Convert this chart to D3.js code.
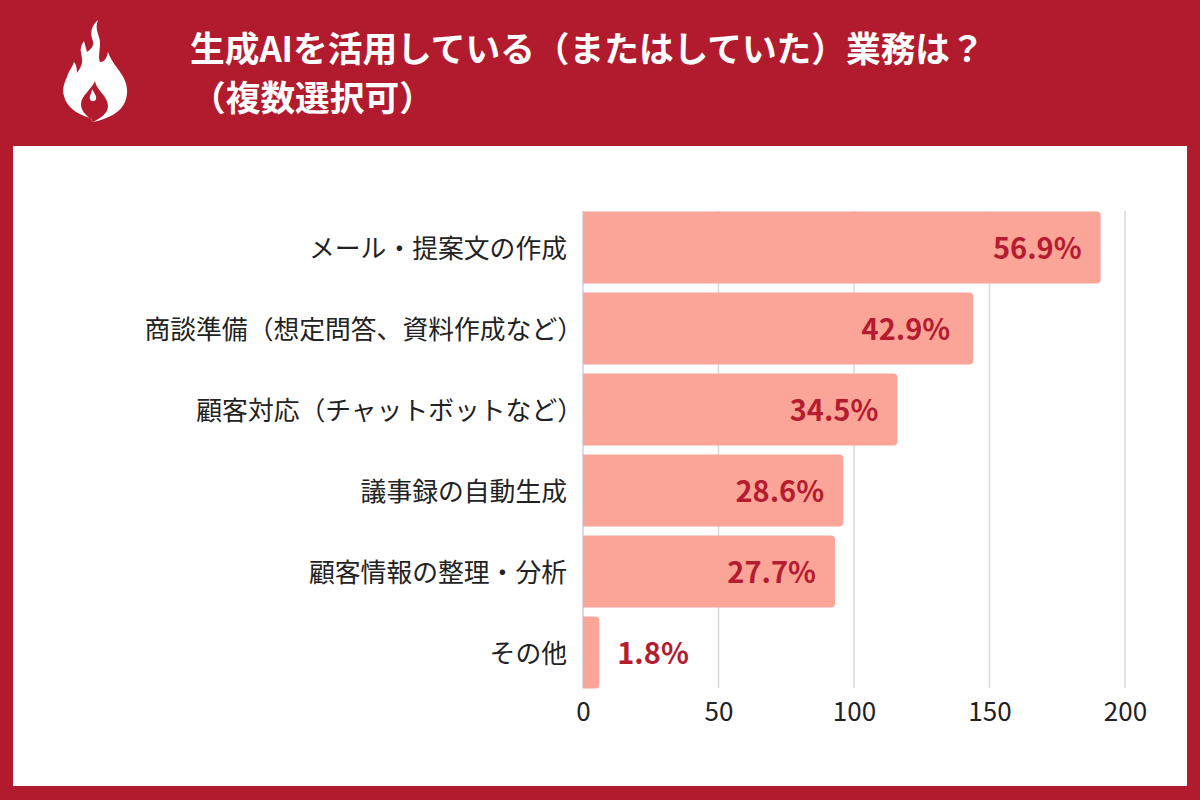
<!DOCTYPE html>
<html lang="ja"><head><meta charset="utf-8">
<script src="https://cdn.jsdelivr.net/npm/d3@7"></script>
<style>html,body{margin:0;padding:0;background:#fff}svg{display:block}
text{font-family:"Noto Sans CJK JP","Noto Sans",sans-serif}</style></head><body>
<svg id="c" width="1200" height="800"></svg>
<script>
const categories=["メール・提案文の作成","商談準備（想定問答、資料作成など）","顧客対応（チャットボットなど）","議事録の自動生成","顧客情報の整理・分析","その他"];
const counts=[191,144,116,96,93,6];
const percentLabels=["56.9%","42.9%","34.5%","28.6%","27.7%","1.8%"];
const ticks=[0,50,100,150,200];
const titleLines=["生成AIを活用している（またはしていた）業務は？","（複数選択可）"];
const RED="#b21b2d",BAR="#fba498",LAB="#b51c30";
const svg=d3.select("#c");
svg.append("rect").attr("width",1200).attr("height",800).attr("fill",RED);
svg.append("rect").attr("x",13).attr("y",146).attr("width",1174).attr("height",640).attr("fill","#fff");
// flame icon
const g=svg.append("g");
g.append("path").attr("fill","#fff").attr("d",
 "M98 20C92 25 90 32 92 38C94 44 94 47 87 52C86 48 85 45 84 41C81 45 80 49 81 53C82 58 83 62 81 66C80 69 78 71 77 73C77 68 76 64 74 62C72 68 69 70 67 77C64 83 62 90 64 96C66 106 76 114 90 118L93 122C108 119 121 112 125 102C129 92 127 83 122 75C117 67 111 61 108 52C107 57 105 62 100 62C98 58 100 50 100 43C100 36 94 29 98 20Z");
g.append("path").attr("fill",RED).attr("d","M91 119C85 115 81 110 81 104C81 96 91 90 95 81C96 90 108 96 108 106C108 113 101 118 93 122Z");
g.append("path").attr("fill","#fff").attr("d","M92 89C94 93 97 96 96 99C95 102 91 102 90 99C89 96 92 93 92 89Z");
// title
svg.selectAll("text.title").data(titleLines).join("text").attr("class","title")
 .attr("x",(d,i)=>i?191:190).attr("y",(d,i)=>i?111:62)
 .attr("fill","#fff").attr("font-size",34.7).attr("font-weight",700).text(d=>d);
// chart
const x=d3.scaleLinear().domain([0,200]).range([583,1125]);
const y=d3.scaleBand().domain(categories).range([207,693]);
const bh=72;
svg.append("g").selectAll("line").data(ticks).join("line")
 .attr("x1",d=>x(d)).attr("x2",d=>x(d)).attr("y1",211).attr("y2",688)
 .attr("stroke",d=>d===0?"#cdd0e0":"#d9d6da").attr("stroke-width",1.5);
const cy=c=>y(c)+y.bandwidth()/2;
svg.append("g").selectAll("path").data(categories).join("path")
 .attr("fill",BAR)
 .attr("d",(c,i)=>{const x0=x(0),x1=x(counts[i]),t=cy(c)-bh/2,b=t+bh,r=4;
  return `M${x0} ${t}H${x1-r}Q${x1} ${t} ${x1} ${t+r}V${b-r}Q${x1} ${b} ${x1-r} ${b}H${x0}Z`;});
svg.append("g").selectAll("text").data(categories).join("text")
 .attr("x",c=>c.endsWith("）")?583:567).attr("y",c=>cy(c)+1).attr("dy","0.36em").attr("text-anchor","end")
 .attr("font-size",25.8).attr("fill","#222").text(c=>c);
svg.append("g").selectAll("text").data(categories).join("text")
 .attr("x",(c,i)=>i===5?x(counts[i])+18:x(counts[i])-(i===1?23:19))
 .attr("y",c=>cy(c)+1).attr("dy","0.36em").attr("text-anchor",(c,i)=>i===5?"start":"end")
 .attr("font-size",29).attr("font-weight",700).attr("fill",LAB)
 .text((c,i)=>percentLabels[i]);
const axis=d3.axisBottom(x).tickValues(ticks).tickSize(0).tickPadding(0);
const ax=svg.append("g").attr("transform","translate(0,703)").call(axis);
ax.select(".domain").remove();
ax.selectAll("text").attr("font-size",26).attr("fill","#222").attr("font-family",'"Noto Sans",sans-serif');
</script></body></html>
